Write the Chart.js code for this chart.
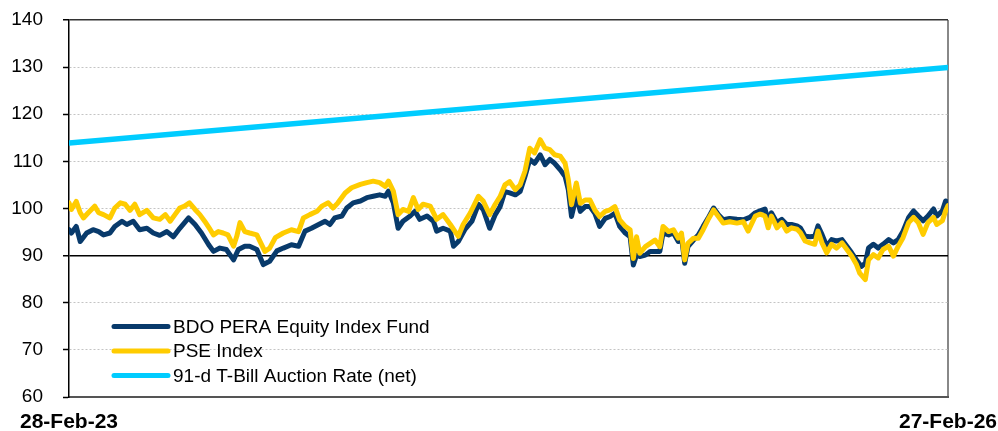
<!DOCTYPE html>
<html>
<head>
<meta charset="utf-8">
<script src="https://cdn.jsdelivr.net/npm/chart.js@4.4.1/dist/chart.umd.min.js"></script>
<style>
  body { margin: 0; background: #fff; }
</style>
</head>
<body>
<canvas id="myChart" width="998" height="431"></canvas>
<script>
// x = days since 28-Feb-23
const dateDays = [0, 1095];
const dateLabels = ["28-Feb-23", "27-Feb-26"];

const seriesNames = ["BDO PERA Equity Index Fund", "PSE Index", "91-d T-Bill Auction Rate (net)"];
const seriesColors = ["#083a6b", "#ffcc00", "#00ccff"];

const bdoFund = [
  [0,95.5],[3,94.8],[9,96.2],[14,93.0],[22,94.8],[30,95.5],[37,95.1],[43,94.4],[51,94.8],[57,96.2],
  [66,97.3],[72,96.6],[80,97.3],[88,95.5],[97,95.8],[105,94.8],[113,94.3],[122,95.1],[130,94.0],[138,95.8],
  [149,98.0],[157,96.6],[165,94.8],[174,92.3],[180,90.9],[188,91.6],[196,91.3],[205,89.1],[211,91.3],[219,92.0],
  [225,92.0],[234,91.3],[242,88.1],[250,88.8],[259,91.0],[267,91.6],[277,92.3],[286,92.0],[294,95.2],[302,95.8],
  [311,96.6],[319,97.3],[325,96.6],[331,98.0],[340,98.4],[346,100.1],[354,101.2],[363,101.6],[371,102.3],[379,102.6],
  [387,102.9],[394,102.6],[398,103.7],[404,101.2],[410,95.8],[416,97.3],[425,98.4],[431,99.4],[437,97.7],[446,98.4],
  [454,97.3],[458,95.2],[466,95.8],[475,95.2],[479,92.0],[485,93.0],[493,95.5],[502,97.3],[510,100.9],[516,99.8],
  [524,95.8],[531,98.7],[537,100.4],[543,103.6],[549,103.3],[556,102.9],[562,103.6],[568,106.8],[574,110.4],[580,109.6],
  [587,111.4],[593,109.3],[599,110.4],[605,109.6],[612,108.2],[618,106.8],[622,104.0],[626,98.3],[632,102.6],[637,99.4],
  [643,100.4],[649,100.4],[655,99.0],[661,96.2],[668,97.9],[674,98.3],[680,99.0],[686,96.2],[693,94.8],[699,94.0],
  [703,88.0],[707,90.1],[711,89.8],[718,90.1],[724,90.9],[730,90.9],[736,90.9],[740,94.8],[747,94.4],[753,94.8],
  [759,93.0],[763,94.0],[767,88.4],[771,91.9],[778,93.3],[784,94.4],[790,96.2],[796,97.9],[803,100.1],[809,98.7],
  [815,97.6],[823,97.9],[832,97.7],[840,97.6],[848,98.1],[855,99.1],[861,99.5],[867,99.9],[871,97.4],[875,99.1],
  [882,97.0],[888,97.7],[894,96.6],[900,96.6],[907,96.3],[911,95.9],[917,94.1],[923,94.0],[929,94.1],[933,96.3],
  [938,94.5],[944,92.0],[950,93.4],[956,93.1],[963,93.4],[969,92.0],[975,90.6],[981,89.1],[987,87.7],[992,88.4],
  [996,91.6],[1002,92.4],[1008,91.6],[1014,92.4],[1021,93.4],[1027,92.7],[1033,93.4],[1039,95.2],[1046,98.1],[1052,99.5],
  [1058,98.4],[1064,97.4],[1070,98.4],[1077,99.9],[1081,98.4],[1088,99.5],[1092,101.6],[1095,101.3]
];

const pseIndex = [
  [0,101.2],[3,99.8],[9,101.5],[14,99.1],[18,98.0],[24,99.1],[32,100.5],[37,99.1],[43,98.7],[51,98.0],
  [57,100.1],[64,101.2],[70,100.9],[76,99.6],[82,100.9],[88,98.7],[97,99.6],[105,98.0],[113,97.7],[120,98.7],
  [126,97.3],[132,98.7],[138,100.1],[144,100.5],[150,101.2],[157,99.8],[163,98.7],[169,97.3],[176,95.5],[180,94.4],
  [186,95.1],[192,94.8],[198,94.4],[205,92.0],[209,94.1],[213,97.0],[219,95.1],[225,94.8],[234,94.4],[244,90.9],
  [250,91.6],[257,93.8],[267,94.8],[277,95.5],[286,95.1],[292,98.0],[300,98.7],[309,99.4],[315,100.5],[323,101.2],
  [329,100.1],[335,101.2],[344,103.3],[352,104.4],[363,105.1],[371,105.5],[379,105.8],[387,105.5],[394,104.7],[398,105.8],
  [404,103.7],[410,98.7],[416,99.8],[423,99.4],[429,102.3],[435,99.8],[441,100.9],[450,100.5],[458,97.7],[466,98.7],
  [475,96.6],[481,95.1],[485,94.1],[491,96.6],[500,99.1],[510,102.6],[516,101.6],[524,98.7],[531,100.9],[537,102.5],
  [543,105.0],[549,105.7],[556,104.0],[562,105.0],[568,107.9],[574,112.8],[580,111.8],[587,114.6],[593,112.8],[599,112.5],
  [605,111.4],[612,111.1],[618,109.6],[622,106.1],[626,100.8],[632,105.4],[637,101.1],[643,101.8],[649,101.8],[655,99.7],
  [661,98.3],[668,99.4],[674,99.7],[680,100.4],[686,97.6],[693,96.2],[699,95.5],[703,89.4],[707,94.0],[711,90.5],
  [718,91.9],[724,92.6],[730,93.3],[736,91.9],[740,96.2],[747,95.1],[753,95.5],[759,93.7],[763,94.8],[767,89.1],
  [771,92.6],[778,93.7],[784,93.7],[790,95.5],[796,97.6],[803,99.7],[809,98.3],[815,96.9],[823,97.2],[832,96.9],
  [840,97.2],[846,95.2],[855,98.4],[861,98.8],[867,98.4],[871,95.9],[875,98.4],[882,95.9],[888,97.0],[894,95.2],
  [900,95.9],[907,95.6],[911,94.9],[917,93.1],[923,92.7],[929,92.4],[933,95.2],[938,92.7],[944,90.6],[950,92.4],
  [956,91.6],[963,92.7],[969,91.3],[975,89.9],[981,88.1],[985,86.3],[992,84.9],[996,89.1],[1002,90.2],[1008,89.5],
  [1014,91.3],[1021,92.0],[1027,89.9],[1033,92.0],[1039,93.8],[1046,97.0],[1052,98.1],[1058,97.0],[1064,94.5],[1070,97.0],
  [1077,98.1],[1081,96.6],[1088,97.4],[1092,99.5],[1095,100.6]
];

const tBill = [[0,113.9],[1095,129.9]];

const yMin = 60, yMax = 140, yStep = 10;
const baseLine = 90;

const FONT = "'Liberation Sans', Arial, sans-serif";

function toPoints(arr) {
  return arr.map(p => ({ x: p[0], y: p[1] }));
}

// legend drawn inside the plot, bottom-left
const insideLegend = {
  id: "insideLegend",
  afterDatasetsDraw(chart) {
    const ctx = chart.ctx;
    const area = chart.chartArea;
    const x0 = area.left + 45, x1 = area.left + 99;
    const yTop = area.bottom - 70.5;
    ctx.save();
    ctx.font = "19px " + FONT;
    ctx.textBaseline = "middle";
    ctx.fillStyle = "#000";
    seriesNames.forEach((name, i) => {
      const y = yTop + i * 24.5;
      ctx.strokeStyle = seriesColors[i];
      ctx.lineWidth = 5;
      ctx.lineCap = "round";
      ctx.beginPath();
      ctx.moveTo(x0, y);
      ctx.lineTo(x1, y);
      ctx.stroke();
      ctx.fillText(name, x1 + 5, y + 1);
    });
    ctx.restore();
  }
};

let myChart = document.getElementById("myChart").getContext("2d");

let perfChart = new Chart(myChart, {
  type: "line",
  data: {
    datasets: [{
      label: seriesNames[0],
      data: toPoints(bdoFund),
      borderColor: seriesColors[0],
      borderWidth: 5,
      order: 2
    }, {
      label: seriesNames[1],
      data: toPoints(pseIndex),
      borderColor: seriesColors[1],
      borderWidth: 5,
      order: 1
    }, {
      label: seriesNames[2],
      data: toPoints(tBill),
      borderColor: seriesColors[2],
      borderWidth: 5.5,
      order: 0
    }]
  },
  options: {
    responsive: false,
    animation: false,
    devicePixelRatio: 1,
    elements: {
      point: { radius: 0 },
      line: { tension: 0, borderJoinStyle: "round", borderCapStyle: "round" }
    },
    layout: { padding: { left: 0, right: 50, top: 20, bottom: 0 } },
    plugins: {
      legend: { display: false },
      tooltip: { enabled: false }
    },
    scales: {
      x: {
        type: "linear",
        min: dateDays[0],
        max: dateDays[dateDays.length - 1],
        afterBuildTicks: s => { s.ticks = dateDays.map(v => ({ value: v })); },
        afterFit: s => { s.height = 34; s.paddingLeft = 0; s.paddingRight = 0; },
        ticks: {
          autoSkip: false,
          maxRotation: 0,
          padding: 13,
          color: "#000",
          font: { family: FONT, size: 21, weight: "bold" },
          callback: (v, i) => dateLabels[i]
        },
        grid: {
          drawTicks: false,
          color: c => c.index === dateDays.length - 1 ? "#888" : "rgba(0,0,0,0)",
          lineWidth: 2
        },
        border: { color: "#555", width: 2 }
      },
      y: {
        min: yMin,
        max: yMax,
        afterFit: s => { s.width = 69; s.paddingTop = 0; s.paddingBottom = 0; },
        ticks: {
          stepSize: yStep,
          padding: 20,
          color: "#000",
          font: { family: FONT, size: 19 }
        },
        grid: {
          color: c => c.tick && c.tick.value === baseLine ? "#000" : (c.tick && c.tick.value === yMax ? "#333" : "#c4c4c4"),
          lineWidth: c => c.tick && (c.tick.value === baseLine || c.tick.value === yMax) ? 1.5 : 1,
          tickColor: "#000",
          tickLength: 6,
          tickWidth: 1.5
        },
        border: {
          color: "#000",
          width: 1.5,
          dash: c => c.tick && (c.tick.value === baseLine || c.tick.value === yMax) ? [] : [2, 2]
        }
      }
    }
  },
  plugins: [insideLegend]
});
</script>
</body>
</html>
